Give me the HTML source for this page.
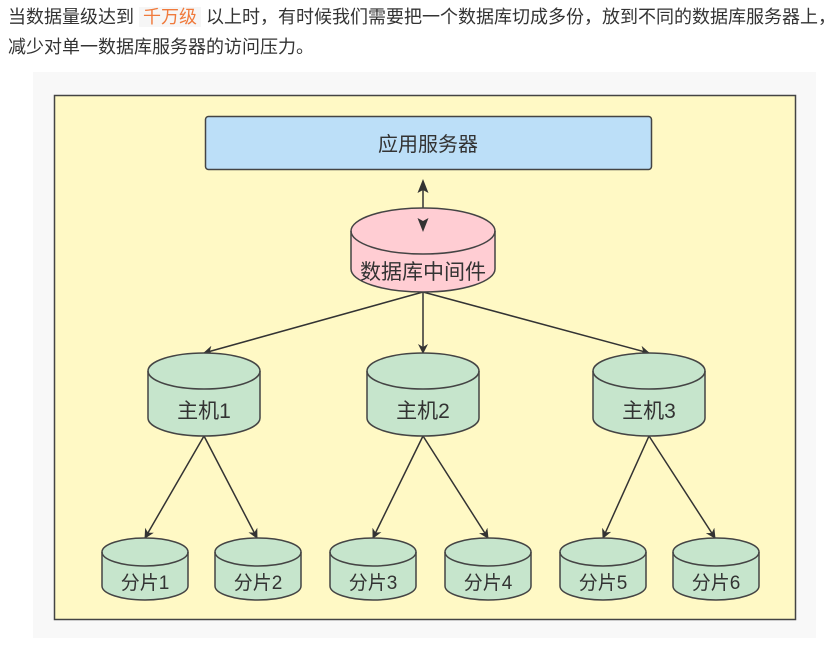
<!DOCTYPE html>
<html><head><meta charset="utf-8"><style>
body{margin:0;background:#fff;width:830px;height:648px;overflow:hidden;font-family:"Liberation Sans","Noto Sans CJK SC",sans-serif;}
.t{position:absolute;left:8px;font-size:18px;color:#333;line-height:28px;white-space:nowrap;}
.hl{color:#f07a3c;background:#f6f6f6;padding:0 4px;}
</style></head><body>
<div class="t" style="top:3px">当数据量级达到 <span class="hl">千万级</span> 以上时，有时候我们需要把一个数据库切成多份，放到不同的数据库服务器上，</div>
<div class="t" style="top:33px">减少对单一数据库服务器的访问压力。</div>
<svg width="830" height="648" style="position:absolute;left:0;top:0" font-family="Liberation Sans, Noto Sans CJK SC, sans-serif">
<defs><marker id="a" markerWidth="10" markerHeight="10" refX="9" refY="5" orient="auto" markerUnits="userSpaceOnUse"><path d="M0,0 L10,5 L0,10 L3,5z" fill="#333"/></marker></defs>
<rect x="33" y="72" width="783" height="566" fill="#f8f8f8"/>
<rect x="54.5" y="95.5" width="741" height="524" fill="#fff9c5" stroke="#444" stroke-width="1.5"/>
<rect x="205.5" y="116.5" width="446" height="53" rx="3" fill="#bcdff8" stroke="#444" stroke-width="1.5"/>
<text x="428" y="151" font-size="20" fill="#333" text-anchor="middle">应用服务器</text>
<g stroke="#333" stroke-width="1.5" fill="none">
<line x1="423" y1="188" x2="423" y2="222"/>
<line x1="423" y1="292" x2="204" y2="353" marker-end="url(#a)"/>
<line x1="423" y1="292" x2="423" y2="353" marker-end="url(#a)"/>
<line x1="423" y1="292" x2="649" y2="353" marker-end="url(#a)"/>
<line x1="204" y1="436" x2="145" y2="538" marker-end="url(#a)"/>
<line x1="204" y1="436" x2="257" y2="538" marker-end="url(#a)"/>
<line x1="423" y1="436" x2="373" y2="538" marker-end="url(#a)"/>
<line x1="423" y1="436" x2="488" y2="538" marker-end="url(#a)"/>
<line x1="649" y1="436" x2="603" y2="538" marker-end="url(#a)"/>
<line x1="649" y1="436" x2="715" y2="538" marker-end="url(#a)"/>
</g>
<g stroke="#444" stroke-width="1.5">
<path d="M351,231 A72,23 0 0 1 495,231 V269 A72,23 0 0 1 351,269 Z" fill="#ffcdd3"/>
<path d="M351,231 A72,23 0 0 0 495,231" fill="none"/>
<g fill="#c6e5cc">
<path d="M148,371 A56,18 0 0 1 260,371 V418 A56,18 0 0 1 148,418 Z"/><path d="M148,371 A56,18 0 0 0 260,371" fill="none"/>
<path d="M367,371 A56,18 0 0 1 479,371 V418 A56,18 0 0 1 367,418 Z"/><path d="M367,371 A56,18 0 0 0 479,371" fill="none"/>
<path d="M593,371 A56,18 0 0 1 705,371 V418 A56,18 0 0 1 593,418 Z"/><path d="M593,371 A56,18 0 0 0 705,371" fill="none"/>
<path d="M102,552 A43,14 0 0 1 188,552 V586 A43,14 0 0 1 102,586 Z"/><path d="M102,552 A43,14 0 0 0 188,552" fill="none"/>
<path d="M215,552 A43,14 0 0 1 301,552 V586 A43,14 0 0 1 215,586 Z"/><path d="M215,552 A43,14 0 0 0 301,552" fill="none"/>
<path d="M330,552 A43,14 0 0 1 416,552 V586 A43,14 0 0 1 330,586 Z"/><path d="M330,552 A43,14 0 0 0 416,552" fill="none"/>
<path d="M445,552 A43,14 0 0 1 531,552 V586 A43,14 0 0 1 445,586 Z"/><path d="M445,552 A43,14 0 0 0 531,552" fill="none"/>
<path d="M560,552 A43,14 0 0 1 646,552 V586 A43,14 0 0 1 560,586 Z"/><path d="M560,552 A43,14 0 0 0 646,552" fill="none"/>
<path d="M673,552 A43,14 0 0 1 759,552 V586 A43,14 0 0 1 673,586 Z"/><path d="M673,552 A43,14 0 0 0 759,552" fill="none"/>
</g></g>
<path d="M423,179 L428.5,193 L423,190 L417.5,193 Z" fill="#333"/>
<path d="M423,232 L428.5,218 L423,221 L417.5,218 Z" fill="#333"/>
<g font-size="21" fill="#333" text-anchor="middle">
<text x="423" y="279">数据库中间件</text>
<text x="204" y="418">主机1</text><text x="423" y="418">主机2</text><text x="649" y="418">主机3</text>
</g>
<g font-size="19" fill="#333" text-anchor="middle">
<text x="145" y="589">分片1</text><text x="258" y="589">分片2</text><text x="373" y="589">分片3</text>
<text x="488" y="589">分片4</text><text x="603" y="589">分片5</text><text x="716" y="589">分片6</text>
</g>
</svg>
</body></html>
